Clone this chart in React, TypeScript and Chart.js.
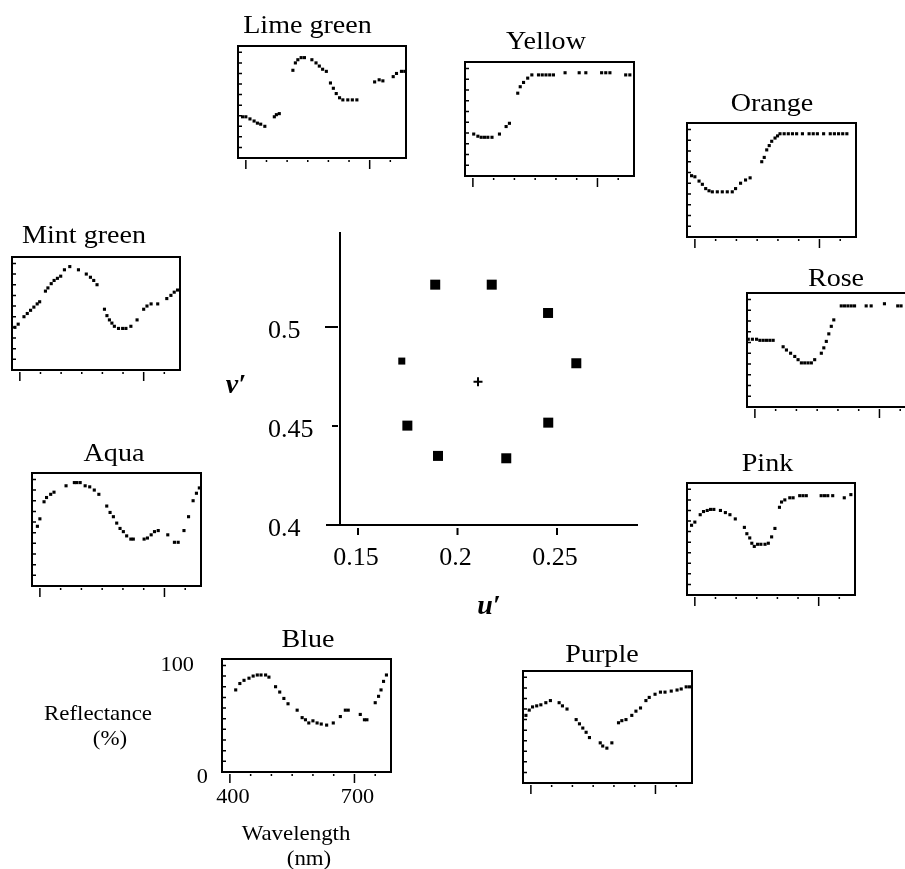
import React, { useEffect, useRef } from "react";
import { Chart, registerables } from "chart.js";

Chart.register(...registerables);

const FONT = '"Liberation Serif", "Times New Roman", serif';

// ---------- central u'v' chromaticity chart ----------
const centralU = [0.1888, 0.2172, 0.2455, 0.2597, 0.2456, 0.2245, 0.1902, 0.1748, 0.172];
const centralV = [0.5214, 0.5214, 0.5071, 0.4817, 0.4517, 0.4337, 0.4349, 0.4502, 0.4828];
const whitePointU = [0.2103];
const whitePointV = [0.4724];
const uTicks = [0.15, 0.2, 0.25];
const vTicks = [0.4, 0.45, 0.5];

// ---------- spectral reflectance panels ----------
const wavelengthTicks = [400, 450, 500, 550, 600, 650, 700, 750];
const wavelengthLabelled = [400, 700];
const reflectanceTicks = [10, 20, 30, 40, 50, 60, 70, 80, 90, 100];
const reflectanceLabelled = [0, 100];

const limeGreenNm = [392, 400, 410, 420, 428, 436, 446, 469, 474, 481, 514, 520, 526, 534, 542, 560, 570, 578, 586, 595, 605, 612, 619, 627, 635, 647, 658, 669, 712, 723, 732, 757, 765, 777, 785];
const limeGreenPct = [39, 39, 37, 35, 33, 32, 30, 39, 41, 42, 83, 90, 93, 95, 95, 93, 90, 87, 84, 82, 71, 66, 61, 57, 55, 55, 55, 55, 72, 74, 73, 77, 80, 82, 82];

const yellowNm = [402, 412, 420, 428, 436, 446, 464, 480, 488, 508, 514, 522, 532, 542, 558, 567, 576, 585, 594, 622, 656, 672, 710, 720, 730, 768, 778];
const yellowPct = [39, 37, 36, 36, 36, 36, 39, 46, 49, 77, 83, 87, 91, 94, 94, 94, 94, 94, 94, 96, 96, 96, 96, 96, 96, 94, 94];

const orangeNm = [392, 400, 410, 418, 426, 434, 442, 454, 466, 478, 490, 498, 510, 522, 533, 561, 567, 573, 579, 585, 593, 599, 605, 615, 625, 635, 645, 659, 675, 685, 695, 710, 726, 736, 746, 756, 766];
const orangePct = [57, 56, 52, 49, 45, 43, 42, 42, 42, 42, 42, 45, 50, 53, 55, 70, 74, 81, 85, 89, 92, 94, 96, 96, 96, 96, 96, 96, 96, 96, 96, 96, 96, 96, 96, 96, 96];

const mintGreenNm = [388, 396, 410, 418, 426, 434, 442, 448, 462, 468, 476, 483, 491, 499, 508, 521, 542, 561, 571, 579, 587, 605, 611, 617, 623, 629, 639, 649, 657, 669, 684, 700, 708, 718, 734, 756, 766, 774, 782];
const mintGreenPct = [40, 43, 50, 53, 56, 59, 62, 64, 74, 77, 81, 84, 86, 88, 94, 97, 94, 90, 87, 84, 80, 57, 51, 47, 44, 41, 39, 39, 39, 41, 47, 57, 60, 62, 62, 67, 70, 73, 75];

const roseNm = [384, 394, 404, 412, 420, 428, 436, 444, 468, 476, 486, 496, 504, 512, 520, 528, 536, 544, 560, 566, 572, 578, 584, 590, 608, 616, 624, 632, 640, 668, 680, 712, 744, 752];
const rosePct = [63, 63, 63, 62, 62, 62, 62, 62, 56, 53, 50, 47, 44, 41, 41, 41, 41, 44, 50, 55, 61, 68, 75, 81, 94, 94, 94, 94, 94, 94, 94, 96, 94, 94];

const aquaNm = [394, 400, 410, 416, 426, 434, 463, 483, 489, 497, 509, 520, 531, 542, 561, 569, 577, 585, 593, 601, 609, 619, 625, 651, 659, 668, 676, 685, 708, 724, 733, 747, 758, 769, 777, 784];
const aquaPct = [56, 63, 79, 83, 86, 88, 94, 97, 97, 97, 94, 93, 90, 86, 75, 69, 65, 59, 54, 51, 47, 44, 44, 44, 45, 48, 51, 52, 48, 41, 41, 52, 65, 80, 87, 92];

const pinkNm = [392, 400, 413, 421, 430, 438, 446, 462, 474, 485, 498, 520, 526, 533, 538, 544, 552, 560, 570, 578, 586, 594, 605, 610, 618, 630, 638, 654, 662, 670, 706, 714, 722, 734, 762, 778];
const pinkPct = [66, 69, 76, 79, 80, 81, 81, 80, 78, 76, 72, 64, 58, 54, 49, 46, 48, 48, 48, 49, 55, 63, 83, 88, 90, 92, 92, 94, 94, 94, 94, 94, 94, 94, 92, 95];

const blueNm = [414, 424, 434, 446, 456, 466, 475, 486, 494, 510, 520, 530, 540, 562, 574, 582, 590, 600, 610, 620, 633, 649, 666, 678, 685, 714, 724, 730, 750, 758, 764, 770, 777];
const bluePct = [77, 83, 86, 88, 90, 91, 91, 91, 89, 80, 75, 69, 64, 58, 51, 49, 46, 48, 46, 45, 44, 46, 52, 58, 58, 54, 49, 49, 65, 71, 77, 85, 91];

const purpleNm = [388, 396, 404, 414, 424, 436, 447, 468, 476, 487, 509, 517, 525, 533, 541, 567, 573, 583, 595, 611, 619, 629, 643, 653, 664, 677, 685, 699, 712, 723, 738, 752, 762, 774, 782];
const purplePct = [64, 69, 72, 73, 74, 76, 78, 76, 73, 70, 60, 56, 52, 48, 43, 38, 35, 33, 38, 57, 59, 60, 64, 68, 71, 78, 81, 84, 86, 86, 87, 88, 89, 91, 91];

type Box = { l: number; t: number; w: number; h: number };
type Panel = {
  title: string;
  nm: number[];
  pct: number[];
  box: Box;
  tx: number;
  ty: number;
  frame?: Box;
  labelled?: boolean;
};

const panels: Panel[] = [
  { title: "Lime green", nm: limeGreenNm, pct: limeGreenPct, box: { l: 238, t: 46, w: 168, h: 112 }, tx: 307.5, ty: 33 },
  { title: "Yellow", nm: yellowNm, pct: yellowPct, box: { l: 465, t: 62, w: 169, h: 114 }, tx: 546, ty: 49 },
  { title: "Orange", nm: orangeNm, pct: orangePct, box: { l: 687, t: 123, w: 169, h: 114 }, tx: 772, ty: 111 },
  { title: "Mint green", nm: mintGreenNm, pct: mintGreenPct, box: { l: 12, t: 257, w: 168, h: 113 }, tx: 84, ty: 243 },
  { title: "Rose", nm: roseNm, pct: rosePct, box: { l: 747, t: 293, w: 169, h: 114 }, tx: 836, ty: 286 },
  { title: "Aqua", nm: aquaNm, pct: aquaPct, box: { l: 32, t: 473, w: 169, h: 113 }, tx: 114, ty: 461 },
  { title: "Pink", nm: pinkNm, pct: pinkPct, box: { l: 687, t: 483, w: 168, h: 112 }, tx: 767.5, ty: 471 },
  { title: "Blue", nm: blueNm, pct: bluePct, box: { l: 222, t: 659, w: 169, h: 113 }, tx: 308, ty: 647, frame: { l: 20, t: 615, w: 390, h: 254 }, labelled: true },
  { title: "Purple", nm: purpleNm, pct: purplePct, box: { l: 523, t: 671, w: 169, h: 112 }, tx: 602, ty: 662 },
];

// draws text slightly widened horizontally, like the reference typesetting
function stretchText(ctx: CanvasRenderingContext2D, text: string, x: number, y: number, sx: number) {
  ctx.save();
  ctx.translate(x, y);
  ctx.scale(sx, 1);
  ctx.fillText(text, 0, 0);
  ctx.restore();
}

function SmallChart({ p }: { p: Panel }) {
  const ref = useRef<HTMLCanvasElement>(null);
  const b = p.box;
  const f: Box = p.frame ?? { l: b.l - 45, t: b.t - 45, w: b.w + 90, h: b.h + 75 };
  useEffect(() => {
    const canvas = ref.current!;
    const pad = {
      left: b.l - f.l,
      top: b.t - f.t,
      right: f.l + f.w - (b.l + b.w),
      bottom: f.t + f.h - (b.t + b.h),
    };
    const deco = {
      id: "deco",
      afterDraw(chart: any) {
        const { ctx, chartArea: a } = chart;
        const xs = chart.scales.x;
        const ys = chart.scales.y;
        ctx.save();
        ctx.strokeStyle = "#000";
        ctx.fillStyle = "#000";
        ctx.lineWidth = 2;
        ctx.strokeRect(a.left, a.top, a.right - a.left, a.bottom - a.top);
        ctx.lineWidth = 1.5;
        ctx.beginPath();
        for (const v of reflectanceTicks) {
          const py = ys.getPixelForValue(v);
          ctx.moveTo(a.left - 1, py);
          ctx.lineTo(a.left + 4, py);
        }
        for (const w of wavelengthTicks) {
          const px = xs.getPixelForValue(w);
          const major = wavelengthLabelled.includes(w);
          ctx.moveTo(px, a.bottom + 2);
          ctx.lineTo(px, a.bottom + (major ? 11 : 4));
        }
        ctx.stroke();
        ctx.font = `26px ${FONT}`;
        ctx.textAlign = "center";
        ctx.textBaseline = "alphabetic";
        stretchText(ctx, p.title, p.tx - f.l, p.ty - f.t, 1.08);
        if (p.labelled) {
          ctx.font = `21px ${FONT}`;
          ctx.textAlign = "right";
          ctx.textBaseline = "middle";
          stretchText(ctx, String(reflectanceLabelled[1]), a.left - 28, ys.getPixelForValue(reflectanceLabelled[1]), 1.06);
          stretchText(ctx, String(reflectanceLabelled[0]), a.left - 14, ys.getPixelForValue(reflectanceLabelled[0]) + 5, 1.06);
          ctx.textAlign = "center";
          ctx.textBaseline = "alphabetic";
          for (const w of wavelengthLabelled) {
            stretchText(ctx, String(w), xs.getPixelForValue(w) + 3, a.bottom + 31, 1.06);
          }
          stretchText(ctx, "Reflectance", 98 - f.l, 720 - f.t, 1.09);
          stretchText(ctx, "(%)", 110 - f.l, 745 - f.t, 1.09);
          stretchText(ctx, "Wavelength", 296 - f.l, 840 - f.t, 1.09);
          stretchText(ctx, "(nm)", 309 - f.l, 865 - f.t, 1.09);
        }
        ctx.restore();
      },
    };
    const chart = new Chart(canvas, {
      type: "scatter",
      data: {
        datasets: [
          {
            data: p.nm.map((w, i) => ({ x: w, y: p.pct[i] })),
            pointStyle: "rect",
            pointRadius: 2.2,
            pointHoverRadius: 2.2,
            backgroundColor: "#000",
            borderWidth: 0,
            showLine: false,
          },
        ],
      },
      options: {
        animation: false,
        responsive: false,
        events: [],
        layout: { padding: pad },
        plugins: { legend: { display: false }, tooltip: { enabled: false } },
        scales: {
          x: { type: "linear", min: 381, max: 788, display: false },
          y: { type: "linear", min: 0, max: 106, display: false },
        },
      },
      plugins: [deco],
    } as any);
    return () => chart.destroy();
  }, []);
  return (
    <canvas
      ref={ref}
      width={f.w}
      height={f.h}
      style={{ position: "absolute", left: f.l, top: f.t, width: f.w, height: f.h }}
    />
  );
}

function CentralChart() {
  const ref = useRef<HTMLCanvasElement>(null);
  const f: Box = { l: 200, t: 220, w: 460, h: 405 };
  useEffect(() => {
    const canvas = ref.current!;
    const deco = {
      id: "axes",
      afterDraw(chart: any) {
        const { ctx, chartArea: a } = chart;
        const xs = chart.scales.x;
        const ys = chart.scales.y;
        ctx.save();
        ctx.strokeStyle = "#000";
        ctx.fillStyle = "#000";
        ctx.lineWidth = 2;
        ctx.beginPath();
        ctx.moveTo(a.left, a.top);
        ctx.lineTo(a.left, a.bottom);
        ctx.moveTo(a.left - 14, a.bottom);
        ctx.lineTo(a.right, a.bottom);
        for (const u of uTicks) {
          const px = xs.getPixelForValue(u);
          ctx.moveTo(px, a.bottom + 3);
          ctx.lineTo(px, a.bottom + 10);
        }
        for (const v of vTicks) {
          if (v === vTicks[0]) continue;
          const py = ys.getPixelForValue(v);
          const len = v === vTicks[2] ? 13 : 6;
          ctx.moveTo(a.left - 2 - len, py);
          ctx.lineTo(a.left - 2, py);
        }
        ctx.stroke();
        ctx.font = `26px ${FONT}`;
        ctx.textBaseline = "alphabetic";
        ctx.textAlign = "center";
        for (const u of uTicks) {
          ctx.fillText(String(u), xs.getPixelForValue(u) - 2, a.bottom + 40);
        }
        ctx.textAlign = "left";
        for (const v of vTicks) {
          ctx.fillText(String(v), a.left - 72, ys.getPixelForValue(v) + 10.5);
        }
        ctx.font = `bold italic 28px ${FONT}`;
        ctx.textAlign = "center";
        ctx.fillText("v\u2032", 236 - f.l, 393 - f.t);
        ctx.fillText("u\u2032", 489 - f.l, 614 - f.t);
        ctx.restore();
      },
    };
    const chart = new Chart(canvas, {
      type: "scatter",
      data: {
        datasets: [
          {
            data: centralU.map((u, i) => ({ x: u, y: centralV[i] })),
            pointStyle: "rect",
            pointRadius: (c: any) => (c.dataIndex === centralU.length - 1 ? 4.95 : 7.07),
            backgroundColor: "#000",
            borderWidth: 0,
            showLine: false,
          },
          {
            data: whitePointU.map((u, i) => ({ x: u, y: whitePointV[i] })),
            pointStyle: "cross",
            pointRadius: 4.5,
            borderColor: "#000",
            borderWidth: 2,
            showLine: false,
          },
        ],
      },
      options: {
        animation: false,
        responsive: false,
        events: [],
        layout: { padding: { left: 140, top: 12, right: 22, bottom: 100 } },
        plugins: { legend: { display: false }, tooltip: { enabled: false } },
        scales: {
          x: { type: "linear", min: 0.14095, max: 0.2907, display: false },
          y: { type: "linear", min: 0.4, max: 0.548, display: false },
        },
      },
      plugins: [deco],
    } as any);
    return () => chart.destroy();
  }, []);
  return (
    <canvas
      ref={ref}
      width={f.w}
      height={f.h}
      style={{ position: "absolute", left: f.l, top: f.t, width: f.w, height: f.h }}
    />
  );
}

export default function App() {
  return (
    <div
      style={{
        position: "absolute",
        left: 0,
        top: 0,
        width: 905,
        height: 869,
        overflow: "hidden",
        background: "#fff",
      }}
    >
      <CentralChart />
      {panels.map((p) => (
        <SmallChart key={p.title} p={p} />
      ))}
    </div>
  );
}
